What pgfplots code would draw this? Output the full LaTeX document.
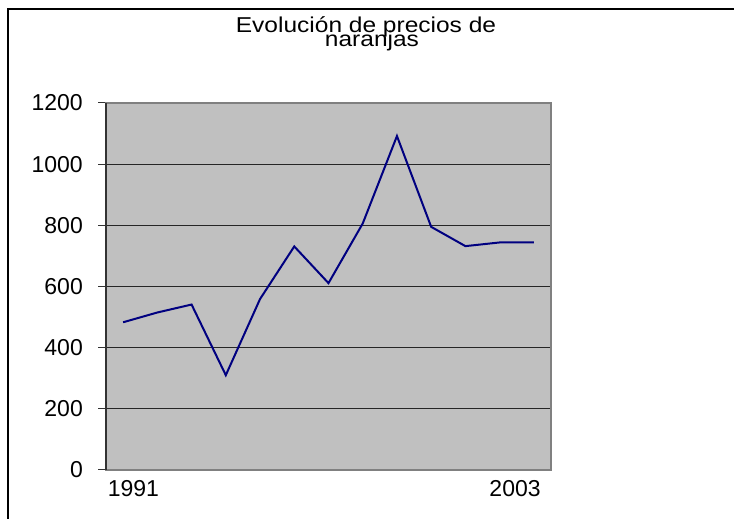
\documentclass[border=0pt]{standalone}
\usepackage{pgfplots}
\pgfplotsset{compat=1.18}
\usepackage{fontspec}
\setmainfont{Liberation Sans}
\definecolor{plotbg}{RGB}{192,192,192}
\definecolor{navyline}{RGB}{0,0,128}
\definecolor{bordergray}{RGB}{128,128,128}
\begin{document}
\begin{tikzpicture}[x=1pt,y=1pt]
\path[use as bounding box] (0,0) rectangle (734,519);
\fill[white] (0,0) rectangle (734,519);
% outer frame (cropped)
\draw[black, line width=2pt] (8,0) -- (8,510) -- (734,510);
\begin{axis}[
  at={(106pt,49pt)}, anchor=south west,
  scale only axis, width=445pt, height=367pt,
  xmin=1990.5, xmax=2003.5, ymin=0, ymax=1200,
  axis background/.style={fill=plotbg},
  axis line style={draw=bordergray, line width=2pt},
  ytick={0,200,...,1200},
  ytick pos=left,
  xtick={1991.3,2002.45}, xticklabels={1991,2003},
  xtick style={draw=none},
  ytick style={draw=black!80, line width=1pt},
  major tick length=8pt, tick align=outside,
  ymajorgrids, grid style={black!85, line width=1pt},
  /pgf/number format/assume math mode=true,
  /pgf/number format/1000 sep={},
  tick label style={font=\fontsize{23}{23}\selectfont},
  yticklabel style={anchor=east, inner sep=0pt, xshift=-15pt},
  xticklabel style={anchor=north, inner sep=0pt, yshift=-2pt},
  clip=false,
]
\addplot[navyline, line width=2pt, mark=none] coordinates {
(1991,483) (1992,515) (1993,541) (1994,310) (1995,559) (1996,731)
(1997,611) (1998,806) (1999,1092) (2000,795) (2001,732) (2002,744) (2003,744)
};
\draw[black!80, line width=1.5pt] (rel axis cs:0,0) -- (rel axis cs:0,1);
\end{axis}
\node[anchor=base, inner sep=0pt] at (366,486) {\fontsize{21.5}{21.5}\selectfont\scalebox{1.14}[1]{Evolución de precios de}};
\node[anchor=base, inner sep=0pt] at (372,472) {\fontsize{21.5}{21.5}\selectfont\scalebox{1.14}[1]{naranjas}};
\end{tikzpicture}
\end{document}
